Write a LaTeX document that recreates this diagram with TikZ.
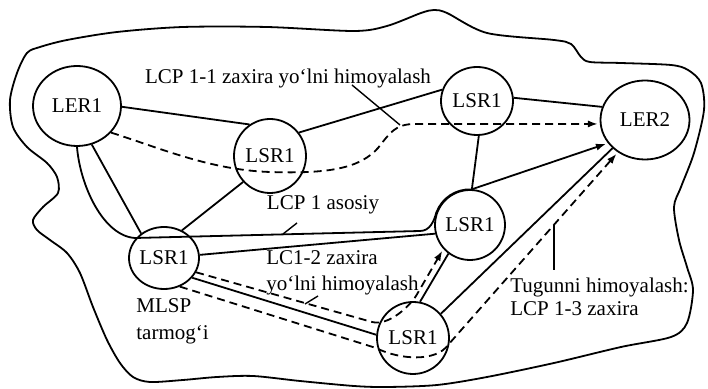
\documentclass[tikz,border=0pt]{standalone}
\usepackage{fontspec}
\setmainfont{Liberation Serif}
\usetikzlibrary{shapes.geometric,arrows.meta}
\begin{document}
\begin{tikzpicture}[x=0.5pt,y=-0.5pt,
  nd/.style={ellipse,draw,line width=0.9pt,inner sep=0pt,font=\fontsize{10.5}{12}\selectfont},
  ln/.style={line width=0.9pt},
  dsh/.style={line width=0.9pt,dash pattern=on 4pt off 2.5pt},
  arr/.style={-{Latex[length=5pt,width=3.6pt]},shorten >=1pt},
  lbl/.style={align=left,inner sep=0pt,font=\fontsize{10.5}{13}\selectfont},
  tick/.style={line width=0.7pt}]
\useasboundingbox (0,0) rectangle (708,389);
% network boundary
\draw[line width=0.9pt] plot[smooth cycle] coordinates {
 (27,53) (40,47) (67,40) (117,32) (183,27) (267,27) (354,31) (387,26) (421,13) (434,10) (447,13)
 (487,33) (554,40) (571,44) (581,57) (590,62) (621,63) (671,65) (688,70) (701,83) (704,110)
 (694,153) (681,187) (674,207) (679,240) (687,267) (693,290) (687,323) (671,337) (621,347)
 (554,363) (487,377) (437,385) (387,387) (354,386) (300,381) (253,376) (217,377) (183,380)
 (150,382) (133,377) (120,363) (107,340) (93,307) (80,273) (67,253) (50,240) (37,230) (33,220)
 (43,207) (58,193) (57,177) (47,163) (27,147) (13,127) (10,100) (17,73)};
% nodes
\node[nd,minimum width=44pt,minimum height=40pt] (ler1) at (77,106) {LER1};
\node[nd,minimum width=36pt,minimum height=37pt] (lsrA) at (270,156) {LSR1};
\node[nd,minimum width=36pt,minimum height=34pt] (lsrB) at (477,101) {LSR1};
\node[nd,minimum width=44.5pt,minimum height=39.5pt] (ler2) at (645,120) {LER2};
\node[nd,minimum width=35pt,minimum height=31pt] (lsrC) at (164,258) {LSR1};
\node[nd,minimum width=35pt,minimum height=35pt] (lsrD) at (470,225) {LSR1};
\node[nd,minimum width=36pt,minimum height=36pt] (lsrE) at (413,338) {LSR1};
% solid links
\draw[ln] (ler1.-1) -- (lsrA.123);
\draw[ln] (lsrA.39) -- (lsrB.162);
\draw[ln] (lsrB.5) -- (ler2.163);
\draw[ln] (lsrB.-87) -- (lsrD.87);
\draw[ln] (lsrA.224) -- (lsrC.57);
\draw[ln] (ler1.-69) -- (lsrC.133);
\draw[ln] (lsrC.5) -- (lsrD.194);
\draw[ln] (lsrC.-35) -- (lsrE.175);
\draw[ln] (lsrE.79) -- (lsrD.233);
\draw[ln] (lsrE.41) -- (ler2.221);
% LCP 1 main path
\draw[ln,arr] (ler1.-90) .. controls (80,185) and (103,236) .. (135,238) -- (420,231)
  .. controls (430,231) and (434,221) .. (lsrD.160)
  arc[start angle=160,end angle=87,radius=17.75pt] -- (ler2.212);
% LCP 1-1 backup
\draw[dsh,arr] (ler1.-38) .. controls (160,148) and (210,170) .. (270,172)
  .. controls (330,174) and (360,168) .. (378,148)
  .. controls (390,133) and (395,124) .. (415,124) -- (ler2.185);
% LC1-2 backup
\draw[dsh,arr] (lsrC.-24) -- (372,322) .. controls (388,326) and (408,308) .. (416,296) -- (lsrD.222);
% LCP 1-3 backup
\draw[dsh,arr] (lsrC.-61) -- (376,348) .. controls (400,360) and (436,362) .. (448,345) -- (ler2.230);
% labels
\node[lbl] (l1) at (288,78) {LCP 1-1 zaxira yo‘lni himoyalash};
\coordinate (t1a) at (352,85);
\coordinate (t1b) at (400,125);
\draw[tick] (t1a) -- (t1b);
\node[lbl] (l2) at (323,205) {LCP 1 asosiy};
\coordinate (t2a) at (297,223);
\coordinate (t2b) at (283,234);
\draw[tick] (t2a) -- (t2b);
\node[lbl,anchor=west] (l3) at (266,273) {LC1-2 zaxira\\yo‘lni himoyalash};
\coordinate (t3a) at (318,296);
\coordinate (t3b) at (305,304);
\draw[tick] (t3a) -- (t3b);
\node[lbl,anchor=west,font=\fontsize{10.5}{13.5}\selectfont] (l4) at (136,321) {MLSP\\tarmog‘i};
\node[lbl,anchor=west,font=\fontsize{10.5}{11.5}\selectfont] (l5) at (510,297) {Tugunni himoyalash:\\LCP 1-3 zaxira};
\coordinate (t5a) at (554,225);
\coordinate (t5b) at (554,270);
\draw[tick] (t5a) -- (t5b);
\end{tikzpicture}
\end{document}
